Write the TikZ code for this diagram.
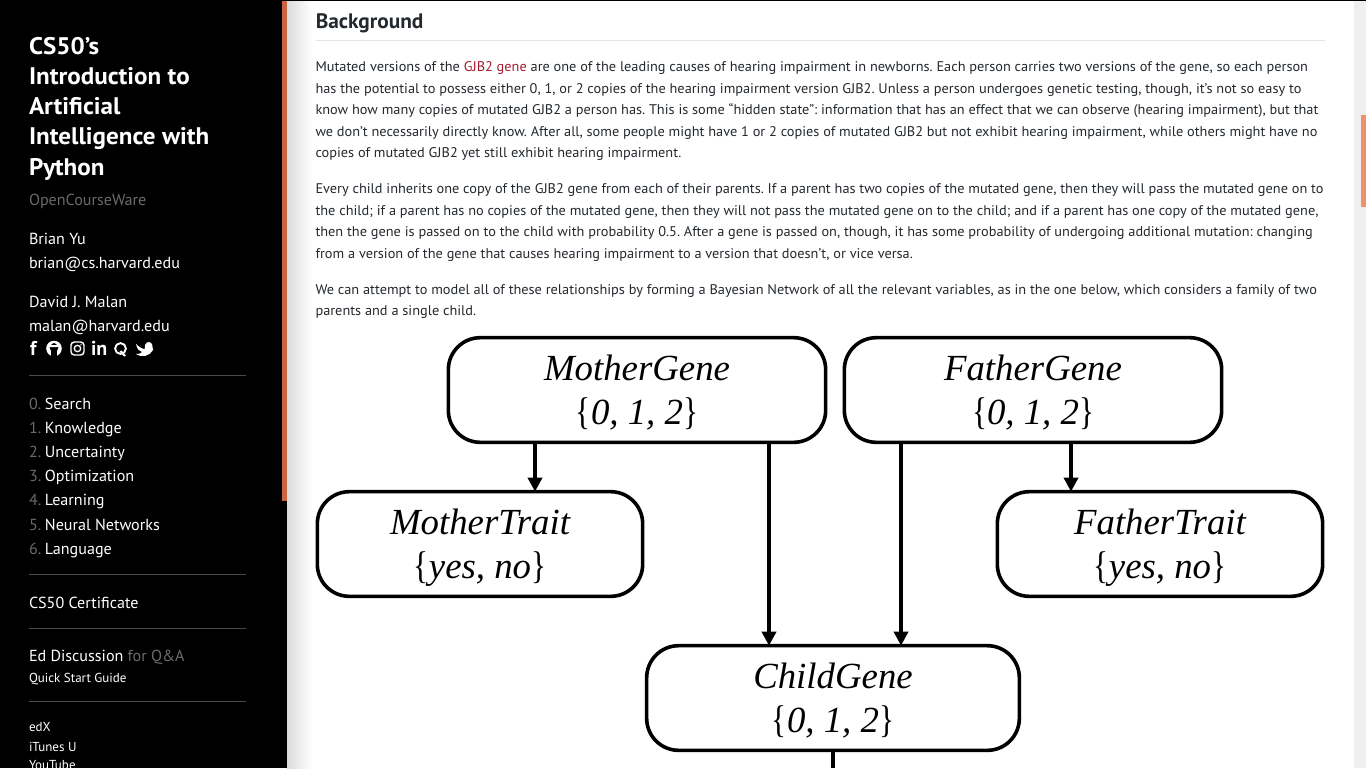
\documentclass[tikz,border=0pt]{standalone}
\usepackage{graphicx}
\usepackage{fontspec}
\setmainfont{PT Sans}
\newfontfamily\bodyfont[FakeStretch=1.023]{PT Sans}
\newfontfamily\titlefont[FakeStretch=1.045]{PT Sans}
\newfontfamily\headfont[FakeStretch=1.02]{PT Sans}
\newfontfamily\sidefont[FakeStretch=1.006]{PT Sans}
\newfontfamily\diagfont[Ligatures=TeX]{Liberation Serif}
\usetikzlibrary{arrows.meta,shadings,positioning}
\definecolor{accent}{HTML}{C9663F}
\definecolor{thumb}{HTML}{F0916C}
\definecolor{trackc}{HTML}{F1EFED}
\definecolor{dimc}{HTML}{6A6A6A}
\definecolor{rulec}{HTML}{4A4A4A}
\definecolor{bodyc}{HTML}{24292E}
\definecolor{linkc}{HTML}{A51C30}
\tikzset{
  x=0.75pt,y=-0.75pt,
  sb/.style={anchor=base west,inner sep=0pt,outer sep=0pt,text=white,font=\sidefont\fontsize{12pt}{12pt}\selectfont},
  sbsmall/.style={sb,font=\fontsize{9.75pt}{9.75pt}\selectfont},
  sbtitle/.style={sb,font=\titlefont\fontsize{18pt}{18pt}\selectfont\bfseries},
  sbicon/.style={sb,font=\fontsize{15pt}{15pt}\selectfont\bfseries},
  para/.style={anchor=base west,inner sep=0pt,outer sep=0pt,text=bodyc,font=\frenchspacing\bodyfont\fontsize{10.5pt}{10.5pt}\selectfont},
  gbox/.style={draw=black,line width=2.7pt,rounded corners=24pt,fill=white,inner sep=0pt,outer sep=0pt,align=center,
     font=\diagfont\itshape\fontsize{27.6pt}{33pt}\selectfont},
  garrow/.style={draw=black,line width=3pt,-{Triangle[length=10.5pt,width=10.5pt]}},
  gline/.style={draw=black,line width=3pt},
}
\newcommand{\dm}[1]{\textcolor{dimc}{#1}\hspace{-1.5pt}}
\newcommand{\gtop}{\rule{0pt}{23.5pt}}
\newcommand{\gtopb}{\rule{0pt}{24.5pt}}
\newcommand{\lb}{\scalebox{0.85}[1.05]{\textup{\{}}}
\newcommand{\rb}{\scalebox{0.85}[1.05]{\textup{\}}}}
\begin{document}
\begin{tikzpicture}
\useasboundingbox (0,0) rectangle (1366,768);
\fill[white] (0,0) rectangle (1366,768);
% shadow
\shade[left color=black!14,right color=white] (287,0) rectangle (312,768);
% sidebar
\fill[black] (0,0) rectangle (287,768);
\fill[black] (287,0) rectangle (1366,1);
\fill[accent] (282,1) rectangle (287,501);
% scrollbar
\fill[trackc] (1354,1) rectangle (1366,768);
\fill[thumb] (1361,115) rectangle (1366,207);
% sidebar text
\node[sbtitle] (t1) at (29,54) {CS50’s};
\node[sbtitle] (t2) at (29,84) {Introduction to};
\node[sbtitle] (t3) at (29,114) {Artificial};
\node[sbtitle] (t4) at (29,144) {Intelligence with};
\node[sbtitle] (t5) at (29,175) {Python};
\node[sb,text=dimc] (ocw) at (29,205) {OpenCourseWare};
\node[sb] (a1) at (29,244) {Brian Yu};
\node[sb] (a2) at (29,268) {brian@cs.harvard.edu};
\node[sb] (a3) at (29,307) {David J. Malan};
\node[sb] (a4) at (29,331) {malan@harvard.edu};
% icons
\node[sbicon] (ic1) at (30,355) {f};
\fill[white] (54,348.5) circle (7.8);
\fill[black] (54,347.5) circle (4.4);
\fill[black] (51,350) rectangle (57,357);
\fill[white] (49.5,342.5) -- (52,345) -- (56,345) -- (58.5,342.5) -- (58.5,347) -- (49.5,347) -- cycle;
\draw[white,line width=1.1pt,rounded corners=2.5pt] (71,342) rectangle (84,355);
\draw[white,line width=1pt] (77.5,348.5) circle (3.2);
\fill[white] (81,344.8) circle (0.8);
\node[sbicon] (ic4) at (91,355) {in};
\draw[white,line width=1.4pt] (120.5,348.5) circle (5.4);
\draw[white,line width=1.6pt] (120.5,351) -- (125,356);
\fill[white] (136,344) .. controls (140,348) and (143,349) .. (145,349) .. controls (144,342) and (149,340) .. (152,344) -- (153,350) .. controls (150,356) and (142,358) .. (136,354) .. controls (141,354) and (142,352) .. (142,352) .. controls (139,351) and (137,349) .. (136,344) -- cycle;
\draw[rulec] (29,375.5) -- (246,375.5);
\node[sb] (n0) at (29,409) {\dm{0.} Search};
\node[sb] (n1) at (29,433) {\dm{1.} Knowledge};
\node[sb] (n2) at (29,457) {\dm{2.} Uncertainty};
\node[sb] (n3) at (29,481) {\dm{3.} Optimization};
\node[sb] (n4) at (29,505) {\dm{4.} Learning};
\node[sb] (n5) at (29,530) {\dm{5.} Neural Networks};
\node[sb] (n6) at (29,554) {\dm{6.} Language};
\draw[rulec] (29,574.5) -- (246,574.5);
\node[sb] (cert) at (29,608) {CS50 Certificate};
\draw[rulec] (29,628.5) -- (246,628.5);
\node[sb] (ed) at (29,661) {Ed Discussion \textcolor{dimc}{for Q\&A}};
\node[sbsmall] (qs) at (29,682) {Quick Start Guide};
\draw[rulec] (29,701.5) -- (246,701.5);
\node[sbsmall] (edx) at (29,731) {edX};
\node[sbsmall] (itu) at (29,751) {iTunes U};
\node[sbsmall] (yt) at (29,769) {YouTube};
% heading
\node[anchor=base west,inner sep=0pt,text=bodyc,font=\headfont\fontsize{15.7pt}{15.7pt}\selectfont\bfseries] (bg) at (315.5,28) {Background};
\draw[black!10] (316,40.5) -- (1325,40.5);
% paragraphs
\node[para] (p11) at (315.5,71) {Mutated versions of the \textcolor{linkc}{GJB2 gene} are one of the leading causes of hearing impairment in newborns. Each person carries two versions of the gene, so each person};
\node[para] (p12) at (315.5,93) {has the potential to possess either 0, 1, or 2 copies of the hearing impairment version GJB2. Unless a person undergoes genetic testing, though, it’s not so easy to};
\node[para] (p13) at (315.5,114) {know how many copies of mutated GJB2 a person has. This is some “hidden state”: information that has an effect that we can observe (hearing impairment), but that};
\node[para] (p14) at (315.5,136) {we don’t necessarily directly know. After all, some people might have 1 or 2 copies of mutated GJB2 but not exhibit hearing impairment, while others might have no};
\node[para] (p15) at (315.5,157) {copies of mutated GJB2 yet still exhibit hearing impairment.};
\node[para] (p21) at (315.5,193) {Every child inherits one copy of the GJB2 gene from each of their parents. If a parent has two copies of the mutated gene, then they will pass the mutated gene on to};
\node[para] (p22) at (315.5,215) {the child; if a parent has no copies of the mutated gene, then they will not pass the mutated gene on to the child; and if a parent has one copy of the mutated gene,};
\node[para] (p23) at (315.5,236) {then the gene is passed on to the child with probability 0.5. After a gene is passed on, though, it has some probability of undergoing additional mutation: changing};
\node[para] (p24) at (315.5,258) {from a version of the gene that causes hearing impairment to a version that doesn’t, or vice versa.};
\node[para] (p31) at (315.5,294) {We can attempt to model all of these relationships by forming a Bayesian Network of all the relevant variables, as in the one below, which considers a family of two};
\node[para] (p32) at (315.5,315) {parents and a single child.};
% diagram
\node[gbox,minimum width=283pt,minimum height=78.5pt] (mg) at (637,390) {\gtop MotherGene\\\lb 0, 1, 2\rb};
\node[gbox,minimum width=283pt,minimum height=78.5pt] (fg) at (1033,390) {\gtop FatherGene\\\lb 0, 1, 2\rb};
\node[gbox,minimum width=244pt,minimum height=78.5pt] (mt) at (480,544) {\gtopb MotherTrait\\\lb yes, no\rb};
\node[gbox,minimum width=244pt,minimum height=78.5pt] (ft) at (1160,544) {\gtopb FatherTrait\\\lb yes, no\rb};
\node[gbox,minimum width=279.5pt,minimum height=78.5pt] (cg) at (833,698) {\gtop ChildGene\\\lb 0, 1, 2\rb};
\coordinate (bot) at (833,768);
\draw[garrow] (mg.south -| 535,0) -- (mt.north -| 535,0);
\draw[garrow] (fg.south -| 1071,0) -- (ft.north -| 1071,0);
\draw[garrow] (mg.south -| 769,0) -- (cg.north -| 769,0);
\draw[garrow] (fg.south -| 901,0) -- (cg.north -| 901,0);
\draw[gline] (cg.south) -- (bot);
\end{tikzpicture}
\end{document}
